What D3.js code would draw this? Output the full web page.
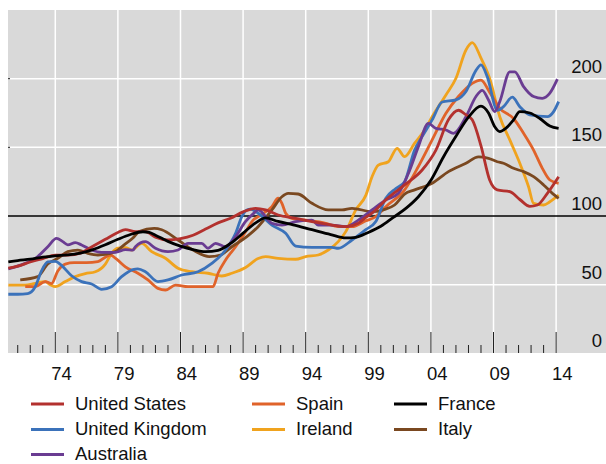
<!DOCTYPE html>
<html>
<head>
<meta charset="utf-8">
<script src="https://cdn.jsdelivr.net/npm/d3@7"></script>
<style>
body { margin:0; background:#fff; }
text { font-family:"Liberation Sans", Arial, sans-serif; fill:#111; }
</style>
</head>
<body>
<svg id="chart"></svg>
<script>
var screen = {width:606,height:464}
var plot = {left:8,right:606,top:10,bottom:353}

// house price indices, [year, value]
var unitedStates = [[1970.25,62],[1971,63.5],[1972,66.5],[1973,69],[1974,71.5],[1975,71.6],[1976,73],[1977,78],[1978,83],[1979,88],[1979.6,90],[1980.4,88.6],[1981.2,88.6],[1982,84.5],[1983,82.5],[1984,83.5],[1985,86],[1986,90.5],[1987,95],[1988,98.3],[1989,103],[1990,105.6],[1990.8,104.4],[1991.8,100.7],[1993.2,98.3],[1994.5,95.9],[1996.1,93.4],[1997.2,92.2],[1998.2,94.7],[1998.8,99],[1999.3,102],[2000.4,111.7],[2001.9,122.6],[2003.3,133.5],[2004.4,148],[2005.4,170],[2006.2,177],[2006.8,173.6],[2007.3,170],[2008,151],[2008.7,126],[2009.3,119],[2010.3,117.7],[2011.1,112],[2011.9,107],[2012.5,108],[2013.3,116.5],[2014.2,128.6]]
var spain = [[1971.6,48.5],[1972.4,48.5],[1973.2,52.2],[1973.7,50.8],[1974.2,60],[1974.8,65],[1975.5,66],[1976.5,66],[1977.4,66.7],[1978,70],[1978.4,71.5],[1978.9,68.5],[1979.6,63],[1980.6,58.3],[1981.4,53.4],[1982.2,47.3],[1982.8,46.1],[1983.6,49.7],[1984.6,48.5],[1986,48.5],[1986.6,48.5],[1987,58.3],[1987.6,68],[1988.4,77.6],[1989.2,88.5],[1989.8,97],[1990.2,99.5],[1991.3,106.8],[1991.8,112.9],[1992.1,109.2],[1992.4,102],[1992.9,98.3],[1994,97],[1995.6,94.7],[1996.6,92.2],[1997.7,92.2],[1998.8,96.5],[1999.6,99.5],[2000.4,106.8],[2001.9,119],[2003,136],[2004.1,155.4],[2005.2,174.8],[2006.2,187],[2007.3,196.6],[2008,199],[2008.7,190],[2009.5,178.4],[2010.6,171],[2011.4,160.2],[2012.2,148],[2012.9,134.7],[2013.5,126.2],[2014.2,123.8]]
var france = [[1970.25,66.5],[1971,67.5],[1972,68.5],[1973,70],[1974,71],[1975,71.6],[1976,73],[1977,75.5],[1978,79],[1979,83],[1980,86.5],[1981,88.5],[1981.5,88],[1982,86],[1983,81.5],[1984,78],[1985,75.5],[1986,74],[1987,75],[1988,80],[1989,87.5],[1990,95],[1990.8,98.6],[1991.8,96],[1993,93.5],[1994.5,90],[1996,86.5],[1997.2,84],[1998,84.5],[1999,88],[2000,92.5],[2001,99],[2002,105.5],[2003,114],[2004,126],[2005,143],[2006,158],[2007,172],[2008,180],[2008.6,175],[2009.1,165],[2009.5,161.5],[2010,164],[2010.6,170],[2011.1,176],[2011.9,175],[2012.7,171],[2013.5,165.5],[2014.2,163.8]]
var unitedKingdom = [[1970.25,43],[1971,43],[1971.8,43.5],[1972.4,48.5],[1972.9,60],[1973.4,66.5],[1974,67],[1974.5,64],[1975.3,56.5],[1976.1,52.2],[1976.9,50.5],[1977.7,46.6],[1978.5,48.5],[1979.3,55.8],[1980.2,61],[1980.6,61.5],[1981.2,59.4],[1982.2,52.2],[1983,53.4],[1984.1,57],[1985.4,59.4],[1986.5,65.5],[1987.6,75.2],[1988.4,87.4],[1988.9,99.5],[1989.3,104.4],[1989.6,105],[1990.2,102],[1991.3,93.4],[1992.4,87.4],[1993.2,78.1],[1994.5,77.2],[1996.1,77.2],[1996.6,76.5],[1997.7,82.5],[1998.8,90],[1999.6,96],[2000.4,113],[2001.2,120],[2001.9,125],[2002.7,148],[2003.3,157.8],[2004.1,170],[2004.9,183],[2006,184.5],[2006.8,190.6],[2007.6,206],[2008,210],[2008.5,201.5],[2009.3,177],[2009.8,179.6],[2010.5,186.5],[2011.1,179.6],[2011.9,173.6],[2013.3,172.3],[2013.8,176],[2014.2,183.3]]
var ireland = [[1970.25,49.7],[1971.6,49.7],[1972.4,51],[1973.2,52.2],[1973.6,50],[1974,48.5],[1974.8,52.2],[1975.6,55.8],[1976.4,58],[1977.2,59.4],[1978,65],[1978.5,72.8],[1979,76.5],[1979.6,77],[1980.1,75.2],[1980.9,80],[1981.7,74],[1982.8,69.2],[1983.8,62],[1984.9,59.4],[1986.2,58.3],[1987.3,56.3],[1988.1,58.3],[1989.2,62.5],[1990.2,69],[1990.8,70.4],[1991.8,69.2],[1993.2,68.5],[1994,70.4],[1995,71.6],[1995.8,75.2],[1996.6,81.3],[1997.2,88.6],[1998,104.4],[1998.8,115],[1999.3,128.6],[1999.8,137],[2000.6,139.5],[2001.3,149.3],[2001.9,143.2],[2002.7,153],[2003.5,162.6],[2004.1,172.3],[2005.2,188.1],[2006,200.3],[2006.8,220.9],[2007.3,226.2],[2008,215],[2008.7,200],[2009.5,172.3],[2010.3,155.4],[2011.1,138.4],[2011.8,121.3],[2012.2,109.2],[2013,108],[2013.5,110.4],[2014.2,115.3]]
var italy = [[1971.2,53.4],[1972.6,55.8],[1973.4,65],[1974.2,69.2],[1975,74],[1975.8,75.2],[1976.6,72.8],[1977.4,71.6],[1978.8,74],[1979.5,79],[1980.2,84],[1980.7,88.6],[1981.9,91],[1982.5,90],[1983.8,82.5],[1985,75.2],[1986.3,70.4],[1987.2,71.6],[1988.1,77.6],[1989.3,85],[1990.2,92.2],[1991.3,104.4],[1992.1,114],[1992.6,116.5],[1993.4,116],[1994.5,109.2],[1995.8,104.4],[1996.9,104.4],[1997.7,105.6],[1999.3,103.1],[2000.2,104.5],[2001.1,108],[2001.9,116],[2002.7,119],[2004.1,123.8],[2005.4,132.3],[2006.8,138.4],[2007.8,143],[2008.6,142],[2009.3,139.5],[2009.8,138.4],[2010.6,134.7],[2011.4,132.3],[2012.2,128.6],[2013,122.6],[2013.7,116.5],[2014.2,112.9]]
var australia = [[1970.25,61.5],[1971.6,65.5],[1972.6,70.5],[1973.4,77.6],[1974.1,83.7],[1974.6,81.3],[1975,79],[1975.6,80.6],[1976.1,78.9],[1976.9,75.2],[1977.7,73.5],[1978.8,73.5],[1979.6,75.5],[1980.2,75.2],[1980.4,77.6],[1981.2,81.3],[1982,76.5],[1983,74],[1983.8,75.2],[1984.6,80],[1985.7,80],[1986.2,76.5],[1986.8,80],[1987.6,77.6],[1988.4,85],[1989.2,96],[1989.8,101.5],[1990.2,104.4],[1991.3,94.7],[1992.1,93.4],[1993.2,95.9],[1994.5,97],[1995,93.4],[1996.1,93.4],[1997.2,92.2],[1998.2,97],[1999.3,104.4],[2000.4,111.7],[2001.4,116.5],[2002.2,131],[2003,150.5],[2003.8,167.5],[2004.4,163.8],[2005.2,162.6],[2005.8,160.2],[2006.8,172.3],[2007.6,187],[2008.1,191.5],[2008.6,184.5],[2009.1,176],[2009.5,183.3],[2010.3,205],[2010.7,205],[2011.4,194.2],[2012.2,187],[2012.9,185.7],[2013.5,189.4],[2014.1,199.6]]

var countries = ["United States","Spain","France","United Kingdom","Ireland","Italy","Australia"]
var colors = ["#b3312e","#e0632a","#000000","#3b72ba","#f0a31e","#7a4820","#6a3c92"]
var seriesList = [unitedStates,spain,france,unitedKingdom,ireland,italy,australia]
var yTicks = [0,50,100,150,200]
var majorYears = [1974,1979,1984,1989,1994,1999,2004,2009,2014]
var minorYears = d3.range(1971,2014).filter(function(y){return majorYears.indexOf(y)<0})

var svg = d3.select("#chart")
    .attr("width",screen.width)
    .attr("height",screen.height)

var xScale = d3.scaleLinear()
    .domain([1970,2018])
    .range([5.2,606.2])

var yScale = d3.scaleLinear()
    .domain([0,250])
    .range([353.3,10])

//grey panel
svg.append("rect")
    .attr("x",plot.left)
    .attr("y",plot.top)
    .attr("width",plot.right-plot.left)
    .attr("height",plot.bottom-plot.top)
    .attr("fill","#d9d9d9")

//white grid
svg.selectAll(".hgrid")
    .data([50,150,200])
    .enter()
    .append("line")
    .attr("x1",plot.left).attr("x2",plot.right)
    .attr("y1",function(d){return yScale(d)})
    .attr("y2",function(d){return yScale(d)})
    .attr("stroke","#fff").attr("stroke-width",1.5)

svg.selectAll(".vgrid")
    .data(majorYears)
    .enter()
    .append("line")
    .attr("x1",function(d){return xScale(d)})
    .attr("x2",function(d){return xScale(d)})
    .attr("y1",plot.top).attr("y2",plot.bottom)
    .attr("stroke","#fff").attr("stroke-width",1.5)

//small ticks on the left edge
svg.selectAll(".lefttick")
    .data([150,200])
    .enter()
    .append("line")
    .attr("x1",plot.left).attr("x2",plot.left+2)
    .attr("y1",function(d){return yScale(d)})
    .attr("y2",function(d){return yScale(d)})
    .attr("stroke","#444").attr("stroke-width",1.2)

//bottom ticks
svg.selectAll(".major")
    .data(majorYears)
    .enter()
    .append("line")
    .attr("x1",function(d){return xScale(d)})
    .attr("x2",function(d){return xScale(d)})
    .attr("y1",332).attr("y2",plot.bottom)
    .attr("stroke","#222").attr("stroke-width",1)

svg.selectAll(".minor")
    .data(minorYears)
    .enter()
    .append("line")
    .attr("x1",function(d){return xScale(d)})
    .attr("x2",function(d){return xScale(d)})
    .attr("y1",345).attr("y2",plot.bottom)
    .attr("stroke","#222").attr("stroke-width",1)

//the 100 line
svg.append("line")
    .attr("x1",plot.left).attr("x2",plot.right)
    .attr("y1",yScale(100)).attr("y2",yScale(100))
    .attr("stroke","#000").attr("stroke-width",1.3)

var line = d3.line()
    .x(function(d){return xScale(d[0])})
    .y(function(d){return yScale(d[1])})
    .curve(d3.curveMonotoneX)

var drawOrder = [4,1,5,3,6,0,2]
svg.selectAll(".series")
    .data(drawOrder)
    .enter()
    .append("path")
    .attr("d",function(i){return line(seriesList[i])})
    .attr("fill","none")
    .attr("stroke",function(i){return colors[i]})
    .attr("stroke-width",2.8)
    .attr("stroke-linejoin","round")

//value labels on the right
svg.selectAll(".ylabel")
    .data(yTicks)
    .enter()
    .append("text")
    .attr("x",602)
    .attr("y",function(d){return yScale(d)-6})
    .attr("text-anchor","end")
    .style("font-size","18.5px")
    .text(function(d){return d})

//year labels, centred on the year
svg.selectAll(".xlabel")
    .data(majorYears)
    .enter()
    .append("text")
    .attr("x",function(d){return xScale(d+0.5)})
    .attr("y",380)
    .attr("text-anchor","middle")
    .style("font-size","18.5px")
    .text(function(d){return String(d).slice(2)})

//legend
var legendCols = [31,252,394]
var legendRows = [404,429.5,454.5]
var legend = svg.selectAll(".legend")
    .data(countries)
    .enter()
    .append("g")
    .attr("transform",function(d,i){return "translate("+legendCols[i%3]+","+legendRows[Math.floor(i/3)]+")"})

legend.append("line")
    .attr("x1",0).attr("x2",33)
    .attr("stroke",function(d,i){return colors[i]})
    .attr("stroke-width",3)

legend.append("text")
    .attr("x",44)
    .attr("y",5.5)
    .style("font-size","18.5px")
    .text(function(d){return d})
</script>
</body>
</html>
